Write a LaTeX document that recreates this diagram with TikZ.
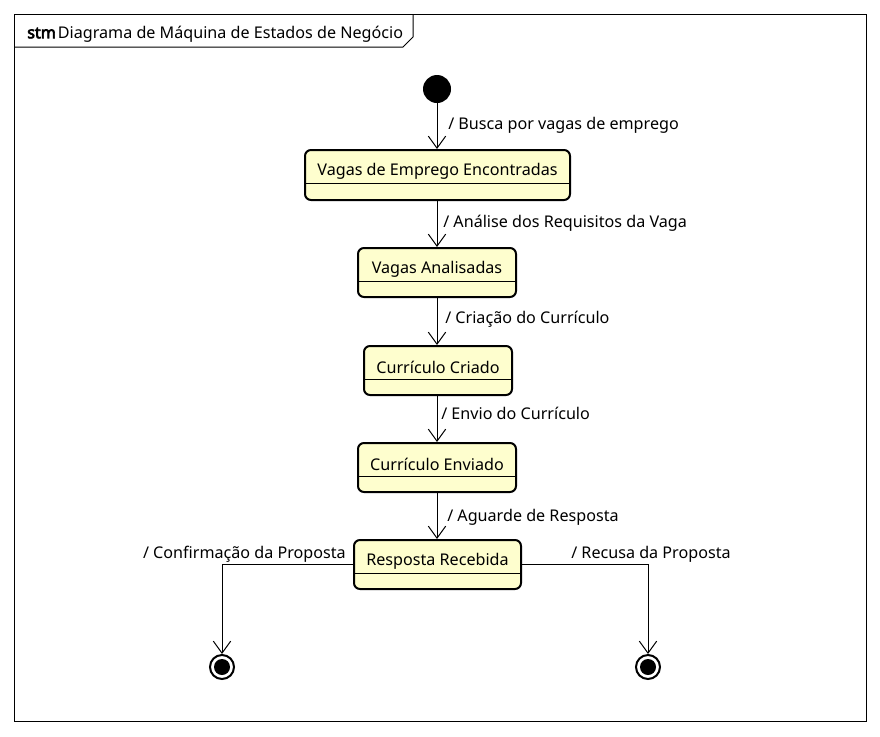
\documentclass[tikz,border=0pt]{standalone}
\usepackage{fontspec}
\setmainfont{Noto Sans}
\newfontfamily\stmbold{Noto Sans}[FakeBold=4]
\usetikzlibrary{arrows.meta,calc}
\begin{document}
\begin{tikzpicture}[x=0.75pt,y=-0.75pt,
  font=\fontsize{12.1pt}{14pt}\selectfont,
  stbox/.style={draw=black,line width=1.5pt,fill=stfill,rounded corners=4.5pt,inner sep=0pt},
  arr/.style={draw=black,line width=0.75pt,-{Straight Barb[length=9pt,width=13pt,line width=0.75pt]}},
  lbl/.style={anchor=west,inner sep=0pt},
  sttext/.style={inner sep=0pt}
]
\definecolor{stfill}{HTML}{FEFECE}
\useasboundingbox (0,0) rectangle (880,736);
% frame
\draw[line width=0.75pt] (14,14) rectangle (866,721);
\draw[line width=0.75pt] (14,47) -- (403,47) -- (413,37) -- (413,14);
\node[lbl] (title) at (27,34) {{\stmbold stm}\hspace{1.5pt}Diagrama de Máquina de Estados de Negócio};
% initial
\node[circle,fill=black,minimum size=28*0.75pt,inner sep=0pt] (init) at (437,89) {};
% states
\node[stbox,minimum width=265*0.75pt,minimum height=50*0.75pt] (s1) at (437.5,175) {};
\node[stbox,minimum width=158*0.75pt,minimum height=49*0.75pt] (s2) at (437,272.5) {};
\node[stbox,minimum width=148*0.75pt,minimum height=49*0.75pt] (s3) at (438,370.5) {};
\node[stbox,minimum width=158*0.75pt,minimum height=49*0.75pt] (s4) at (437,467.5) {};
\node[stbox,minimum width=167*0.75pt,minimum height=49*0.75pt] (s5) at (437.5,564.5) {};
\foreach \s/\t in {s1/Vagas de Emprego Encontradas,s2/Vagas Analisadas,s3/Currículo Criado,s4/Currículo Enviado,s5/Resposta Recebida}{
  \node[sttext] (\s t) at ($(\s.north)+(0,22)$) {\t};
  \draw[line width=0.75pt] ($(\s.north west)+(0,34)$) -- ($(\s.north east)+(0,34)$);
}
% finals
\node[circle,draw=black,line width=1.5pt,fill=white,minimum size=24*0.75pt,inner sep=0pt] (f1) at (222,667) {};
\node[circle,fill=black,minimum size=16*0.75pt,inner sep=0pt] (f1i) at (f1) {};
\node[circle,draw=black,line width=1.5pt,fill=white,minimum size=24*0.75pt,inner sep=0pt] (f2) at (648,667) {};
\node[circle,fill=black,minimum size=16*0.75pt,inner sep=0pt] (f2i) at (f2) {};
% transitions
\draw[arr] (init) -- (init |- s1.north);
\draw[arr] (s1.south -| init) -- (init |- s2.north);
\draw[arr] (s2.south) -- (s3.north -| s2.south);
\draw[arr] (s3.south -| s4.north) -- (s4.north);
\draw[arr] (s4.south) -- (s5.north -| s4.south);
\draw[arr] (s5.west) -| (f1.north);
\draw[arr] (s5.east) -| (f2.north);
% labels
\node[lbl] (l1) at (448,125) {/ Busca por vagas de emprego};
\node[lbl] (l2) at (443,223) {/ Análise dos Requisitos da Vaga};
\node[lbl] (l3) at (445,319) {/ Criação do Currículo};
\node[lbl] (l4) at (441,413) {/ Envio do Currículo};
\node[lbl] (l5) at (447,517) {/ Aguarde de Resposta};
\node[anchor=east,inner sep=0pt] (l6) at (346,554) {/ Confirmação da Proposta};
\node[lbl] (l7) at (571,554) {/ Recusa da Proposta};
\end{tikzpicture}
\end{document}
